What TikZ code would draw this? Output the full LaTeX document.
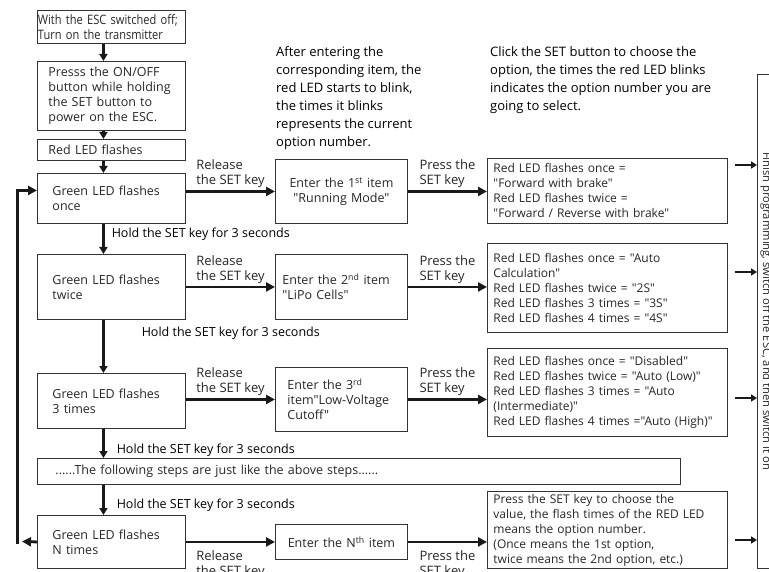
\documentclass[tikz,border=0pt]{standalone}
\usepackage{fontspec}
\setmainfont{Open Sans}[Ligatures=TeXOff]
\usepackage{tikz}
\usetikzlibrary{arrows.meta}

\begin{document}
\begin{tikzpicture}[x=1pt, y=-1pt,
    every node/.style={font=\fontsize{12.5}{15}\selectfont, text=black!85},
    box/.style={draw=black!80, line width=0.9pt, anchor=north west, align=left, inner ysep=0pt},
    optbox/.style={box, text width=228pt, inner xsep=6pt, font=\fontsize{12}{15}\selectfont},
    note/.style={anchor=north west, align=left, inner sep=0pt, font=\fontsize{13}{18}\selectfont, text=black},
    rel/.style={align=left, inner sep=2pt, font=\fontsize{13}{15}\selectfont},
    hold/.style={inner sep=0pt, text=black},
    harr/.style={line width=2.8pt, black!90, -{Triangle[length=9pt,width=9pt]}},
    varr/.style={line width=2.6pt, black!90, -{Triangle[length=7pt,width=8pt]}},
    sarr/.style={line width=2.4pt, black!90, -{Triangle[length=6pt,width=7pt]}}]
    \useasboundingbox (0,0) rectangle (769,572);
    \clip (0,0) rectangle (769,572);
    \node[box, text width=147pt, inner xsep=0.5pt, minimum height=33pt, font=\fontsize{13}{15}\selectfont\addfontfeatures{FakeStretch=0.85}] (start) at (37,10) {With the ESC switched off;\\Turn on the transmitter};
    \node[box, text width=126pt, inner xsep=11pt, minimum height=69pt] (power) at (37,61) {Presss the ON/OFF\\button while holding\\the SET button to\\power on the ESC.};
    \node[box, text width=126pt, inner xsep=11pt, minimum height=21pt] (red) at (37,139) {Red LED flashes};
    \node[box, text width=118pt, inner xsep=15pt, minimum height=50pt] (g1) at (37,173) {Green LED flashes\\once};
    \node[box, text width=118pt, inner xsep=15pt, minimum height=65pt] (g2) at (37,254) {Green LED flashes\\twice};
    \node[box, text width=118pt, inner xsep=15pt, minimum height=55pt] (g3) at (37,373) {Green LED flashes\\3 times};
    \node[box, text width=607pt, inner xsep=18pt, minimum height=26pt] (dots) at (37,458) {......The following steps are just like the above steps......};
    \node[box, text width=118pt, inner xsep=15pt, minimum height=53pt] (gn) at (37,515) {Green LED flashes\\N times};
    \node[box, text width=118pt, inner xsep=7pt, minimum height=64pt, align=center] (e1) at (275,159) {Enter the 1\textsuperscript{st} item\\"Running Mode"};
    \node[box, text width=118pt, inner xsep=7pt, minimum height=65pt] (e2) at (275,254) {Enter the 2\textsuperscript{nd} item\\"LiPo Cells"};
    \node[box, text width=108pt, inner xsep=12pt, minimum height=64pt] (e3) at (275,367) {Enter the 3\textsuperscript{rd}\\item"Low-Voltage\\Cutoff"};
    \node[box, text width=118pt, inner xsep=7pt, minimum height=35pt, align=center] (en) at (275,524) {Enter the N\textsuperscript{th} item};
    \node[optbox, minimum height=65pt] (o1) at (487,158) {Red LED flashes once =\\"Forward with brake"\\Red LED flashes twice =\\"Forward / Reverse with brake"};
    \node[optbox, minimum height=89pt] (o2) at (487,243) {Red LED flashes once = "Auto\\Calculation"\\Red LED flashes twice = "2S"\\Red LED flashes 3 times = "3S"\\Red LED flashes 4 times = "4S"};
    \node[optbox, minimum height=88pt] (o3) at (487,348) {Red LED flashes once = "Disabled"\\Red LED flashes twice = "Auto (Low)"\\Red LED flashes 3 times = "Auto\\(Intermediate)"\\Red LED flashes 4 times ="Auto (High)"};
    \node[optbox, minimum height=77pt] (o4) at (487,491) {Press the SET key to choose the\\value, the flash times of the RED LED\\means the option number.\\(Once means the 1st option,\\twice means the 2nd option, etc.)};
    \node[draw=black!80, line width=0.9pt, anchor=north west, minimum width=43pt, minimum height=494pt] (fin) at (757,74) {};
    \node[rotate=-90, anchor=base, inner sep=0pt, font=\fontsize{11.2}{14}\selectfont] (fintext) at (763,311) {Finish programming, switch off the ESC, and then switch it on};
    \node[note] (hint1) at (276,46) {After entering the\\corresponding item, the\\red LED starts to blink,\\the times it blinks\\represents the current\\option number.};
    \node[note] (hint2) at (490,46) {Click the SET button to choose the\\option, the times the red LED blinks\\indicates the option number you are\\going to select.};
    \draw[varr] ([xshift=-8pt]start.south) -- ([xshift=-8pt]power.north);
    \draw[varr] ([xshift=-8pt]power.south) -- ([xshift=-8pt]red.north);
    \draw[varr] ([xshift=-8pt]red.south) -- ([xshift=-8pt]g1.north);
    \draw[varr] ([xshift=-8pt]g1.south) -- node[hold, pos=0.35, right=7pt]{Hold the SET key for 3 seconds} ([xshift=-8pt]g2.north);
    \draw[varr] ([xshift=-8pt]g2.south) -- node[hold, pos=0.26, right=37pt]{Hold the SET key for 3 seconds} ([xshift=-8pt]g3.north);
    \draw[varr] ([xshift=-8pt]g3.south) -- node[hold, pos=0.73, right=12pt]{Hold the SET key for 3 seconds} ([xshift=-8pt]g3.south |- dots.north);
    \draw[varr] ([xshift=-8pt]gn.north |- dots.south) -- node[hold, pos=0.68, right=12pt]{Hold the SET key for 3 seconds} ([xshift=-8pt]gn.north);
    \draw[harr] (g1.east |- e1.west) -- node[rel, above]{Release\\the SET key} (e1.west);
    \draw[harr] (g2.east |- e2.west) -- node[rel, above]{Release\\the SET key} (e2.west);
    \draw[harr] (g3.east |- e3.west) -- node[rel, above]{Release\\the SET key} (e3.west);
    \draw[harr] (gn.east |- en.west) -- node[rel, below=5pt]{Release\\the SET key} (en.west);
    \draw[harr] (e1.east) -- node[rel, above]{Press the\\SET key} (o1.west |- e1.east);
    \draw[harr] (e2.east) -- node[rel, above]{Press the\\SET key} (o2.west |- e2.east);
    \draw[harr] (e3.east) -- node[rel, above]{Press the\\SET key} (o3.west |- e3.east);
    \draw[harr] (en.east) -- node[rel, below=5pt]{Press the\\SET key} (o4.west |- en.east);
    \coordinate (a1) at (735,165);
    \coordinate (a2) at (735,272);
    \coordinate (a3) at (735,398);
    \coordinate (a4) at (735,540);
    \foreach \a in {a1,a2,a3,a4}
        \draw[sarr] (\a) -- (\a -| fin.west);
    \coordinate (lt) at (22,541.5);
    \coordinate (lb) at (17.5,544);
    \draw[harr] (gn.west) -- (lt);
    \draw[harr] (lb) |- ([yshift=8pt]g1.west);
\end{tikzpicture}
\end{document}
